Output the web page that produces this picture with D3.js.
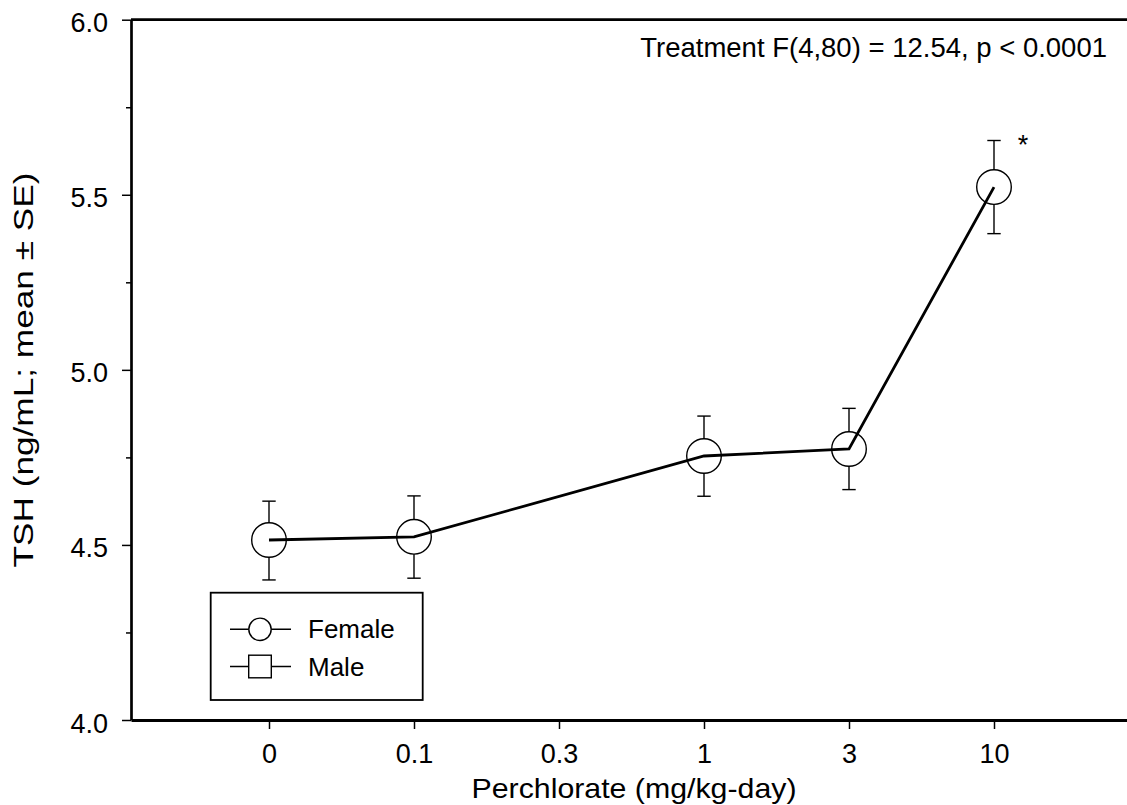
<!DOCTYPE html>
<html>
<head>
<meta charset="utf-8">
<script src="https://cdn.jsdelivr.net/npm/d3@7/dist/d3.min.js"></script>
<style>
  html, body { margin: 0; padding: 0; background: #fff; }
  svg { display: block; }
  text { font-family: "Liberation Sans", Arial, Helvetica, sans-serif; fill: #000; }
</style>
</head>
<body>
<svg id="chart" width="1127" height="805"></svg>
<script>
// ---- data ----
const doseLabels = ["0", "0.1", "0.3", "1", "3", "10"];
const femaleDoseIndex = [0, 1, 3, 4, 5];
const femaleMean  = [4.514, 4.523, 4.754, 4.774, 5.522];
const femaleUpper = [4.625, 4.640, 4.868, 4.890, 5.655];
const femaleLower = [4.400, 4.405, 4.639, 4.658, 5.389];
const yMajorTicks = [4.0, 4.5, 5.0, 5.5, 6.0];
const yMinorTicks = [4.25, 4.75, 5.25, 5.75];
const legendItems = ["Female", "Male"];
const significantIndex = [4]; // index into female arrays (dose 10)
const annotationText = "Treatment F(4,80) = 12.54, p < 0.0001";
const xTitle = "Perchlorate (mg/kg-day)";
const yTitle = "TSH (ng/mL; mean \u00B1 SE)";

(function () {
// ---- layout ----
const svg = d3.select("#chart");
const pLeft = 131, pRight = 1127, pTop = 19.7, pBottom = 720;

const x = d3.scaleLinear().domain([0, 5]).range([269, 994]);
const xAxisScale = d3.scaleLinear().domain([x.invert(pLeft), x.invert(pRight)]).range([pLeft, pRight]);
const y = d3.scaleLinear().domain([4, 6]).range([pBottom, pTop]);

// frame top line
svg.append("line")
  .attr("x1", pLeft).attr("x2", pRight + 5)
  .attr("y1", y(6)).attr("y2", y(6))
  .attr("stroke", "#000").attr("stroke-width", 2.7);

// y axis
const yAxis = svg.append("g").attr("transform", `translate(${pLeft},0)`)
  .call(d3.axisLeft(y).tickValues(yMajorTicks).tickFormat(d3.format(".1f")).tickSize(9).tickSizeOuter(0).tickPadding(14));
yAxis.attr("font-size", null).attr("font-family", null);
yAxis.select(".domain").attr("stroke-width", 2.7);
yAxis.selectAll(".tick line").attr("stroke-width", 1.5);
yAxis.selectAll(".tick text")
  .attr("dy", null).attr("y", 12)
  .style("font-size", "27px")
  .style("font-family", "'Liberation Sans', Arial, sans-serif");

const yMinor = svg.append("g").attr("transform", `translate(${pLeft},0)`)
  .call(d3.axisLeft(y).tickValues(yMinorTicks).tickFormat("").tickSize(5).tickSizeOuter(0));
yMinor.select(".domain").remove();
yMinor.selectAll(".tick line").attr("stroke-width", 1.5);

// x axis
const xAxis = svg.append("g").attr("transform", `translate(0,${pBottom})`)
  .call(d3.axisBottom(xAxisScale).tickValues(d3.range(doseLabels.length))
    .tickFormat(i => doseLabels[i]).tickSize(9).tickSizeOuter(0).tickPadding(0));
xAxis.attr("font-size", null).attr("font-family", null);
xAxis.select(".domain").attr("stroke-width", 2.9);
xAxis.selectAll(".tick line").attr("stroke-width", 1.5);
xAxis.selectAll(".tick text")
  .attr("dy", null).attr("y", 43)
  .style("font-size", "27px")
  .style("font-family", "'Liberation Sans', Arial, sans-serif");

// axis titles
svg.append("text")
  .attr("x", 634).attr("y", 798)
  .attr("text-anchor", "middle").style("font-size", "28px")
  .attr("textLength", 325).attr("lengthAdjust", "spacingAndGlyphs")
  .text(xTitle);

svg.append("text")
  .attr("transform", "translate(33,370) rotate(-90)")
  .attr("text-anchor", "middle").style("font-size", "27px")
  .attr("textLength", 395).attr("lengthAdjust", "spacingAndGlyphs")
  .text(yTitle);

// annotation
svg.append("text")
  .attr("x", 1107).attr("y", 57)
  .attr("text-anchor", "end").style("font-size", "27.5px")
  .text(annotationText);

// ---- data marks ----
const pts = femaleDoseIndex.map((d, i) => ({
  xi: d, mean: femaleMean[i], hi: femaleUpper[i], lo: femaleLower[i]
}));

const capW = 6.7;
const eb = svg.append("g").attr("stroke", "#000").attr("stroke-width", 1.4);
eb.selectAll("line.v").data(pts).join("line").attr("class", "v")
  .attr("x1", d => x(d.xi)).attr("x2", d => x(d.xi))
  .attr("y1", d => y(d.lo)).attr("y2", d => y(d.hi));
eb.selectAll("line.ct").data(pts).join("line").attr("class", "ct")
  .attr("x1", d => x(d.xi) - capW).attr("x2", d => x(d.xi) + capW)
  .attr("y1", d => y(d.hi)).attr("y2", d => y(d.hi));
eb.selectAll("line.cb").data(pts).join("line").attr("class", "cb")
  .attr("x1", d => x(d.xi) - capW).attr("x2", d => x(d.xi) + capW)
  .attr("y1", d => y(d.lo)).attr("y2", d => y(d.lo));

svg.append("g").selectAll("circle").data(pts).join("circle")
  .attr("cx", d => x(d.xi)).attr("cy", d => y(d.mean)).attr("r", 17.3)
  .attr("fill", "#fff").attr("stroke", "#000").attr("stroke-width", 1.4);

svg.append("path").datum(pts)
  .attr("fill", "none").attr("stroke", "#000").attr("stroke-width", 2.8)
  .attr("stroke-linejoin", "miter")
  .attr("d", d3.line().x(d => x(d.xi)).y(d => y(d.mean)));

// significance marker
svg.selectAll("text.sig").data(significantIndex.map(i => pts[i])).join("text")
  .attr("class", "sig")
  .attr("x", d => x(d.xi) + 29).attr("y", d => y(d.hi) + 13)
  .attr("text-anchor", "middle").style("font-size", "27px")
  .text("*");

// ---- legend ----
const lg = svg.append("g");
lg.append("rect")
  .attr("x", 210.7).attr("y", 592.7).attr("width", 212).attr("height", 107.3)
  .attr("fill", "#fff").attr("stroke", "#000").attr("stroke-width", 1.8);
const rowY = [629.3, 666.5];
legendItems.forEach((name, i) => {
  const g = lg.append("g").attr("transform", `translate(260,${rowY[i]})`);
  g.append("line").attr("x1", -30).attr("x2", 31).attr("y1", 0).attr("y2", 0)
    .attr("stroke", "#000").attr("stroke-width", 1.4);
  if (i === 0) {
    g.append("circle").attr("r", 11.2).attr("fill", "#fff").attr("stroke", "#000").attr("stroke-width", 1.4);
  } else {
    g.append("rect").attr("x", -11.3).attr("y", -11.3).attr("width", 22.6).attr("height", 22.6)
      .attr("fill", "#fff").attr("stroke", "#000").attr("stroke-width", 1.4);
  }
  g.append("text").attr("x", 48).attr("y", 9).style("font-size", "26px").text(name);
});
})();
</script>
</body>
</html>
